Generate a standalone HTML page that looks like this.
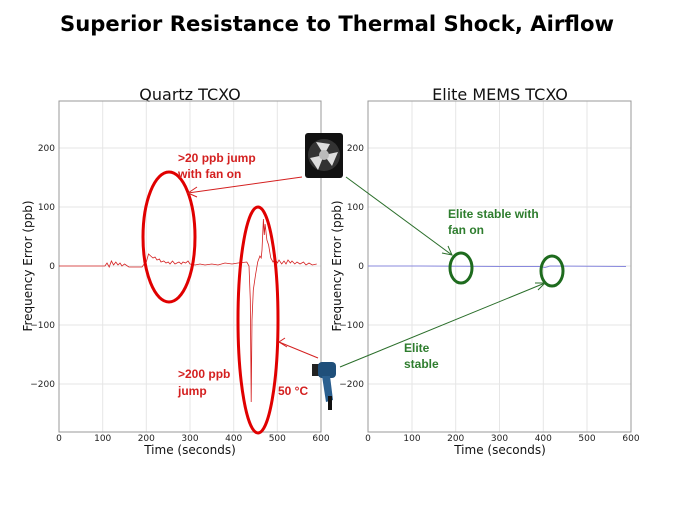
<!DOCTYPE html>
<html><head><meta charset="utf-8"><style>
body{margin:0;background:#fff;width:675px;height:506px;overflow:hidden;font-family:"Liberation Sans",sans-serif}
</style></head><body>
<svg width="675" height="506" viewBox="0 0 675 506" xmlns="http://www.w3.org/2000/svg" font-family="DejaVu Sans, Liberation Sans, sans-serif">
<text x="60" y="31" textLength="554" lengthAdjust="spacingAndGlyphs" font-family="DejaVu Sans, sans-serif" font-weight="bold" font-size="21" fill="#000">Superior Resistance to Thermal Shock, Airflow</text>
<text x="190" y="100" text-anchor="middle" font-size="16" fill="#111">Quartz TCXO</text>
<text x="500" y="100" text-anchor="middle" font-size="16" fill="#111">Elite MEMS TCXO</text>
<g stroke="#e6e6e6" stroke-width="1">
<line x1="102.7" y1="101" x2="102.7" y2="432"/><line x1="146.3" y1="101" x2="146.3" y2="432"/><line x1="190" y1="101" x2="190" y2="432"/><line x1="233.7" y1="101" x2="233.7" y2="432"/><line x1="277.3" y1="101" x2="277.3" y2="432"/>
<line x1="59" y1="148" x2="321" y2="148"/><line x1="59" y1="207" x2="321" y2="207"/><line x1="59" y1="266" x2="321" y2="266"/><line x1="59" y1="325" x2="321" y2="325"/><line x1="59" y1="384" x2="321" y2="384"/>
<line x1="412" y1="101" x2="412" y2="432"/><line x1="455.7" y1="101" x2="455.7" y2="432"/><line x1="499.5" y1="101" x2="499.5" y2="432"/><line x1="543.3" y1="101" x2="543.3" y2="432"/><line x1="587" y1="101" x2="587" y2="432"/>
<line x1="368" y1="148" x2="631" y2="148"/><line x1="368" y1="207" x2="631" y2="207"/><line x1="368" y1="266" x2="631" y2="266"/><line x1="368" y1="325" x2="631" y2="325"/><line x1="368" y1="384" x2="631" y2="384"/>
</g>
<rect x="59" y="101" width="262" height="331" fill="none" stroke="#999" stroke-width="1"/>
<rect x="368" y="101" width="263" height="331" fill="none" stroke="#999" stroke-width="1"/>
<g font-size="9" fill="#222">
<text x="55" y="151" text-anchor="end">200</text><text x="55" y="210" text-anchor="end">100</text><text x="55" y="269" text-anchor="end">0</text><text x="55" y="328" text-anchor="end">−100</text><text x="55" y="387" text-anchor="end">−200</text>
<text x="59" y="441" text-anchor="middle">0</text><text x="102.7" y="441" text-anchor="middle">100</text><text x="146.3" y="441" text-anchor="middle">200</text><text x="190" y="441" text-anchor="middle">300</text><text x="233.7" y="441" text-anchor="middle">400</text><text x="277.3" y="441" text-anchor="middle">500</text><text x="321" y="441" text-anchor="middle">600</text>
<text x="364" y="151" text-anchor="end">200</text><text x="364" y="210" text-anchor="end">100</text><text x="364" y="269" text-anchor="end">0</text><text x="364" y="328" text-anchor="end">−100</text><text x="364" y="387" text-anchor="end">−200</text>
<text x="368" y="441" text-anchor="middle">0</text><text x="412" y="441" text-anchor="middle">100</text><text x="455.7" y="441" text-anchor="middle">200</text><text x="499.5" y="441" text-anchor="middle">300</text><text x="543.3" y="441" text-anchor="middle">400</text><text x="587" y="441" text-anchor="middle">500</text><text x="631" y="441" text-anchor="middle">600</text>
</g>
<g font-size="12" fill="#111">
<text x="190" y="454" text-anchor="middle">Time (seconds)</text>
<text x="500" y="454" text-anchor="middle">Time (seconds)</text>
<text transform="translate(32,266) rotate(-90)" text-anchor="middle">Frequency Error (ppb)</text>
<text transform="translate(341,266) rotate(-90)" text-anchor="middle">Frequency Error (ppb)</text>
</g>
<polyline fill="none" stroke="#d42020" stroke-width="0.8" points="59,266 104.9,266 107,263 109.2,267 111.4,261 113.6,265 115.8,262 118,265 120,263 122,266 124.5,264 128.9,267 142,267 144.2,264 146.3,262 148.5,254 150.7,256 153,258 155,257 157,260 159.4,259 161,262 163.8,261 166,263 168.2,262 170,264 172.5,261 175,264 176.9,263 179,262 181.3,264 183,262 185.6,263 188,261 190,264 195,265 200,264 205,265 211.8,264 218,265 225,263 232,264 238,263 246.8,262 249,266 250.3,300 251.2,402 252,320 253.3,290 255.5,275 257.7,262 259.9,256 261.2,258 262,250 263.4,219 264.3,235 265.1,224 266.9,240 268.6,245 270.8,258 273,262 275,259 277.4,263 279,260 281.7,264 284,261 286,264 288,260 290.4,263 292,261 294.8,264 297,262 300,264 303.5,262 306,265 309,263 312.3,265 316.7,264"/>
<polyline fill="none" stroke="#8888dd" stroke-width="1" points="368,266 420,266 500,266.5 540,266.5 545,267.5 550,266 626,266.5"/>
<g fill="none" stroke="#e00000" stroke-width="3">
<ellipse cx="169" cy="237" rx="26" ry="65"/>
<ellipse cx="258" cy="320" rx="20" ry="113"/>
</g>
<g fill="none" stroke="#1e6b1e" stroke-width="3">
<ellipse cx="461" cy="268" rx="11" ry="15"/>
<ellipse cx="552" cy="271" rx="11" ry="15"/>
</g>
<g stroke="#d42020" stroke-width="1" fill="none">
<line x1="302" y1="177" x2="188" y2="193"/><polyline points="197,187 188,193 197,197"/>
<line x1="318" y1="358" x2="279" y2="342"/><polyline points="285,338 279,342 287,347"/>
</g>
<g stroke="#2a6e2a" stroke-width="1" fill="none">
<line x1="346" y1="177" x2="452" y2="255"/><polyline points="442,253 452,255 448,246"/>
<line x1="340" y1="367" x2="545" y2="283"/><polyline points="535,283 545,283 538,290"/>
</g>
<g font-family="Liberation Sans, sans-serif" font-weight="bold" font-size="12" fill="#d42020">
<text x="178" y="162">&gt;20 ppb jump</text><text x="178" y="178">with fan on</text>
<text x="178" y="378">&gt;200 ppb</text><text x="178" y="395">jump</text>
<text x="278" y="395">50 °C</text>
</g>
<g font-family="Liberation Sans, sans-serif" font-weight="bold" font-size="12" fill="#2e7d2e">
<text x="448" y="218">Elite stable with</text><text x="448" y="234">fan on</text>
<text x="404" y="352">Elite</text><text x="404" y="368">stable</text>
</g>
<g>
<rect x="305" y="133" width="38" height="45" rx="3" fill="#111"/>
<circle cx="324" cy="155" r="16" fill="#333"/>
<path d="M324 155 L316 142 L330 144 Z M324 155 L338 152 L332 166 Z M324 155 L318 170 L310 158 Z" fill="#ddd"/>
<circle cx="324" cy="155" r="5" fill="#bbb"/>
</g>
<g>
<rect x="312" y="364" width="8" height="12" fill="#222"/>
<rect x="318" y="362" width="18" height="16" rx="4" fill="#1f4f7a"/>
<path d="M322 376 L330 376 L333 400 L326 402 Z" fill="#2a5f8f"/>
<rect x="328" y="396" width="4" height="14" fill="#111"/>
</g>
</svg>
</body></html>
